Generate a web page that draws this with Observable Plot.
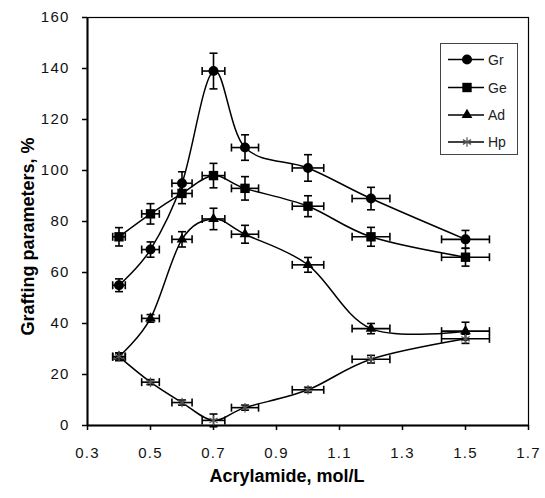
<!DOCTYPE html>
<html>
<head>
<meta charset="utf-8">
<script src="https://cdn.jsdelivr.net/npm/d3@7"></script>
<script src="https://cdn.jsdelivr.net/npm/@observablehq/plot@0.6"></script>
<style>
  html, body { margin: 0; padding: 0; background: #fff; }
  #wrap { position: relative; width: 545px; height: 498px; font-family: "Liberation Sans", Arial, sans-serif; }
  #legend { position: absolute; left: 0; top: 0; }
  #wrap svg [aria-label="x-axis tick label"] text,
  #wrap svg [aria-label="y-axis tick label"] text { letter-spacing: 1.2px; fill: #111; }
</style>
</head>
<body>
<div id="wrap"></div>
<script>
// ---- data ----
const conc = [0.4, 0.5, 0.6, 0.7, 0.8, 1.0, 1.2, 1.5];           // Acrylamide, mol/L
const concErr = [0.02, 0.028, 0.032, 0.036, 0.043, 0.05, 0.06, 0.076];
const seriesNames = ["Gr", "Ge", "Ad", "Hp"];
const grValues = [55, 69, 95, 139, 109, 101, 89, 73];
const grErr    = [2.5, 3, 4.5, 7, 5, 5.2, 4.4, 3.5];
const geValues = [74, 83, 91, 98, 93, 86, 74, 66];
const geErr    = [3.6, 4, 4, 4.8, 4.6, 4.1, 3.7, 3.5];
const adValues = [27, 42, 73, 81, 75, 63, 38, 37];
const adErr    = [1.5, 1.5, 3, 4.2, 3.5, 2.9, 2, 3.5];
const hpValues = [27, 17, 9, 2, 7, 14, 26, 34];
const hpErr    = [1.5, 1, 1, 2.5, 1, 1, 1.5, 1.8];
const xTicks = [0.3, 0.5, 0.7, 0.9, 1.1, 1.3, 1.5, 1.7];
const yTicks = [0, 20, 40, 60, 80, 100, 120, 140, 160];

const symbols = {Gr: "circle", Ge: "square", Ad: "triangle", Hp: "asterisk"};
const symR = {Gr: 5, Ge: 5.3, Ad: 4, Hp: 4.5};

const valueSets = {Gr: [grValues, grErr], Ge: [geValues, geErr], Ad: [adValues, adErr], Hp: [hpValues, hpErr]};
const rows = [];
for (const s of seriesNames) {
  const [vals, errs] = valueSets[s];
  conc.forEach((c, i) => rows.push({series: s, x: c, y: vals[i], ey: errs[i], ex: concErr[i]}));
}

const hCap = {draw(ctx) { ctx.moveTo(-4, 0); ctx.lineTo(4, 0); }};
const vCap = {draw(ctx) { ctx.moveTo(0, -4); ctx.lineTo(0, 4); }};

const font = '"Liberation Sans", Arial, sans-serif';

const marks = [
  Plot.frame({stroke: "black", strokeWidth: 1.2}),
  Plot.axisX({ticks: xTicks, tickSize: 5, tickPadding: 17, tickFormat: d3.format(".1f"), label: null, fontSize: 15, strokeWidth: 1.5}),
  Plot.axisY({ticks: yTicks, tickSize: 5, tickPadding: 13, label: null, fontSize: 15, strokeWidth: 1.5}),
  Plot.ruleX([0.3], {stroke: "black", strokeWidth: 2}),
  Plot.ruleY([0], {stroke: "black", strokeWidth: 2}),
  // smoothed lines
  Plot.line(rows, {x: "x", y: "y", z: "series", curve: "cardinal", stroke: "black", strokeWidth: 1.5}),
  // error bars
  Plot.link(rows, {x1: "x", x2: "x", y1: d => d.y - d.ey, y2: d => d.y + d.ey, stroke: "black", strokeWidth: 1.6}),
  Plot.link(rows, {y1: "y", y2: "y", x1: d => d.x - d.ex, x2: d => d.x + d.ex, stroke: "black", strokeWidth: 1.6}),
  Plot.dot(rows, {x: "x", y: d => d.y + d.ey, symbol: hCap, fill: "none", stroke: "black", strokeWidth: 1.6}),
  Plot.dot(rows, {x: "x", y: d => d.y - d.ey, symbol: hCap, fill: "none", stroke: "black", strokeWidth: 1.6}),
  Plot.dot(rows, {x: d => d.x - d.ex, y: "y", symbol: vCap, fill: "none", stroke: "black", strokeWidth: 1.6}),
  Plot.dot(rows, {x: d => d.x + d.ex, y: "y", symbol: vCap, fill: "none", stroke: "black", strokeWidth: 1.6}),
  // markers
  ...seriesNames.map(s => s === "Hp"
    ? Plot.dot(rows.filter(d => d.series === s), {x: "x", y: "y", symbol: symbols[s], r: symR[s], stroke: "#555", strokeWidth: 1.2, fill: "none"})
    : Plot.dot(rows.filter(d => d.series === s), {x: "x", y: "y", symbol: symbols[s], r: symR[s], fill: "black", stroke: "none"})),
  // axis titles
  Plot.text(["Acrylamide, mol/L"], {frameAnchor: "bottom", dx: -21, dy: 56, fontSize: 18, fontWeight: "bold", fill: "black"}),
  Plot.text(["Grafting parameters, %"], {frameAnchor: "left", textAnchor: "middle", dx: -59, dy: 15, rotate: -90, fontSize: 18, fontWeight: "bold", fill: "black"})
];

const chart = Plot.plot({
  width: 545,
  height: 498,
  marginLeft: 87,
  marginRight: 17,
  marginTop: 17,
  marginBottom: 73,
  style: {fontFamily: font, color: "black", background: "white"},
  x: {domain: [0.3, 1.7]},
  y: {domain: [0, 160]},
  marks
});
document.getElementById("wrap").appendChild(chart);

// ---- legend (inside plot area, top right) ----
const leg = d3.select("#wrap").append("svg")
  .attr("id", "legend").attr("width", 545).attr("height", 498)
  .style("pointer-events", "none");
leg.append("rect").attr("x", 440.5).attr("y", 43.5).attr("width", 77).attr("height", 111)
  .attr("fill", "white").attr("stroke", "#444").attr("stroke-width", 1);
const rowY = [59.5, 87.5, 115, 142];
const d3sym = {circle: d3.symbolCircle, square: d3.symbolSquare, triangle: d3.symbolTriangle, asterisk: d3.symbolAsterisk};
seriesNames.forEach((s, i) => {
  const y = rowY[i];
  leg.append("line").attr("x1", 448).attr("x2", 484).attr("y1", y).attr("y2", y)
    .attr("stroke", "black").attr("stroke-width", 1.5);
  const r = symR[s];
  const p = leg.append("path")
    .attr("d", d3.symbol(d3sym[symbols[s]], Math.PI * r * r)())
    .attr("transform", `translate(467,${y})`);
  if (s === "Hp") p.attr("fill", "none").attr("stroke", "#555").attr("stroke-width", 1.2);
  else p.attr("fill", "black");
  leg.append("text").attr("x", 488).attr("y", y).attr("dy", "0.36em")
    .attr("font-family", font).attr("font-size", 14).attr("fill", "#222").text(s);
});
</script>
</body>
</html>
